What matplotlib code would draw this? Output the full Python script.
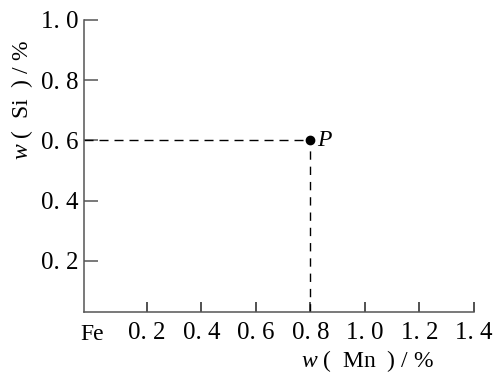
import numpy as np
import matplotlib as mpl
import matplotlib.pyplot as plt

# data
p_x = 0.8   # w(Mn) / %
p_y = 0.6   # w(Si) / %
x_ticks = [0.2, 0.4, 0.6, 0.8, 1.0, 1.2, 1.4]
y_ticks = [0.2, 0.4, 0.6, 0.8, 1.0]
x_labels = ['0. 2', '0. 4', '0. 6', '0. 8', '1. 0', '1. 2', '1. 4']
y_labels = ['0. 2', '0. 4', '0. 6', '0. 8', '1. 0']

# configuration
mpl.rcParams['font.family'] = 'Liberation Serif'
mpl.rcParams['font.size'] = 18
mpl.rcParams['mathtext.fontset'] = 'custom'
mpl.rcParams['mathtext.rm'] = 'Liberation Serif'
mpl.rcParams['mathtext.it'] = 'Liberation Serif:italic'

fig = plt.figure(figsize=(4.99, 3.75), dpi=100)
ax = fig.add_axes([84/499, 63/375, 390/499, 292/375])

ax.set_xlim(-0.031, 1.4)
ax.set_ylim(0.03, 1.0)

for s in ['top', 'right']:
    ax.spines[s].set_visible(False)
for s in ['left', 'bottom']:
    ax.spines[s].set_color('#555555')
    ax.spines[s].set_linewidth(1.1)

# dashed guide lines
ax.plot([-0.031, p_x], [p_y, p_y], color='black', lw=1.0, dashes=(6.5, 4.3))
ax.plot([p_x, p_x], [0.03, p_y], color='black', lw=1.0, dashes=(6, 5))
ax.plot(p_x, p_y, 'o', color='black', markersize=6, zorder=5)
ax.text(p_x + 0.025, p_y, 'P', style='italic', fontsize=17, va='center', ha='left')

ax.set_xticks(x_ticks)
ax.set_xticklabels(x_labels)
ax.set_yticks(y_ticks)
ax.set_yticklabels(y_labels)
ax.tick_params(axis='x', direction='in', length=7, width=1.1, color='#222222', pad=7)
ax.tick_params(axis='y', direction='in', length=10, width=1.1, color='#555555', pad=4)

ax.text(0.0, -0.04, 'Fe', transform=ax.get_xaxis_transform(), ha='center', va='top', fontsize=17)

ax.set_xlabel(r'$w$ (  Mn  ) / %', fontsize=17)
ax.xaxis.set_label_coords(0.728, -0.125)
ax.set_ylabel(r'$w$ (  Si  ) / %', fontsize=17)
ax.yaxis.set_label_coords(-0.125, 0.726)

plt.savefig('out.png', dpi=100)
